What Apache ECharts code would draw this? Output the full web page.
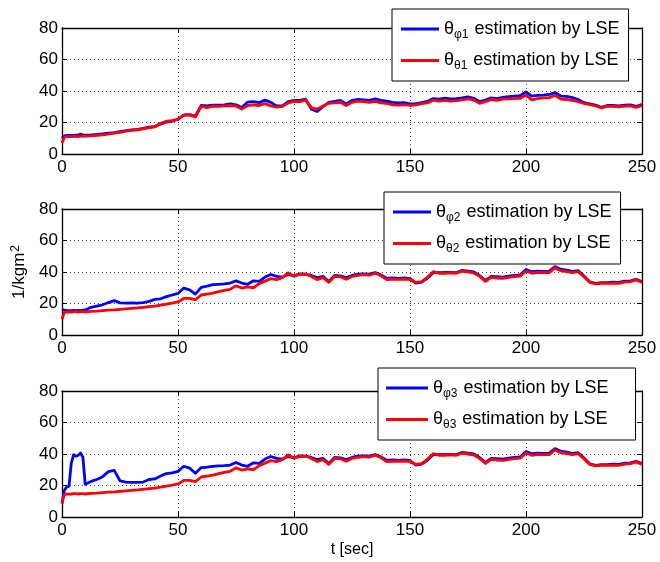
<!DOCTYPE html>
<html>
<head>
<meta charset="utf-8">
<script src="https://cdn.jsdelivr.net/npm/echarts@6/dist/echarts.min.js"></script>
<style>
  html, body { margin: 0; padding: 0; background: #fff; }
  #chart { width: 660px; height: 562px; }
</style>
</head>
<body>
<div id="chart"></div>
<script>
// Sample times [sec]
const timeSec = [0, 1, 2, 3, 4, 5, 6, 7, 8, 9, 10,
  12.5, 15, 17.5, 20, 22.5, 25, 27.5, 30, 32.5, 35, 37.5, 40, 42.5, 45, 47.5, 50,
  52.5, 55, 57.5, 60, 62.5, 65, 67.5, 70, 72.5, 75, 77.5, 80, 82.5, 85, 87.5, 90,
  92.5, 95, 97.5, 100, 102.5, 105, 107.5, 110, 112.5, 115, 117.5, 120, 122.5, 125,
  127.5, 130, 132.5, 135, 137.5, 140, 142.5, 145, 147.5, 150, 152.5, 155, 157.5, 160,
  162.5, 165, 167.5, 170, 172.5, 175, 177.5, 180, 182.5, 185, 187.5, 190, 192.5, 195,
  197.5, 200, 202.5, 205, 207.5, 210, 212.5, 215, 217.5, 220, 222.5, 225, 227.5, 230,
  232.5, 235, 237.5, 240, 242.5, 245, 247.5, 250];

// Axis 1 estimates
const thetaPhi1 = [10, 11.5, 11.8, 11.8, 11.8, 11.8, 11.9, 12, 12.6, 12, 12,
  12.1, 12.4, 12.8, 13.2, 13.6, 14.2, 14.8, 15.3, 15.7, 16.3, 17, 17.4, 19.0, 20.3, 20.8, 22.2,
  24.8, 25, 24, 30.8, 30.5, 31.0, 31.0, 31.2, 31.8, 31.2, 29.5, 33.0, 33.2, 32.6, 34.2, 32.8,
  30.5, 30.6, 33.2, 34.0, 34.0, 34.8, 28.5, 27.0, 30.0, 32.8, 33.4, 34.0, 31.8, 34.0,
  34.6, 34.4, 34.0, 35.0, 34.0, 33.6, 32.8, 32.4, 32.6, 31.8, 32.0, 32.6, 33.4, 35.2,
  34.8, 35.4, 35.0, 35.2, 35.6, 36.2, 35.4, 33.2, 34.2, 35.6, 35.2, 36.0, 36.4, 36.8,
  37.0, 39.4, 36.8, 37.2, 37.4, 37.8, 39.0, 36.8, 36.6, 35.8, 34.6, 32.6, 31.8, 31.0,
  29.6, 30.8, 30.8, 30.6, 31.0, 31.2, 30.2, 31.6];
const thetaTheta1 = [7, 10.5, 11, 11, 11, 11.2, 11.2, 11, 11.5, 11.2, 11.3,
  11.5, 11.8, 12.2, 12.6, 13.2, 13.8, 14.5, 15.0, 15.4, 16.0, 16.8, 17.3, 19.5, 20.8, 21.2, 22,
  24.5, 24.8, 23.5, 30.2, 29.5, 30.4, 30.2, 30.5, 30.8, 30.5, 28.5, 30.8, 31.2, 30.8, 32, 30.5,
  29.8, 30.2, 32.5, 33.4, 33.2, 34.2, 29.5, 28.5, 30.5, 32.2, 32.5, 32.8, 30.8, 32.8,
  33.5, 33.2, 32.8, 33.4, 32.5, 32.2, 31.2, 31.0, 31.4, 30.8, 31.2, 32.0, 32.4, 34.2,
  33.6, 34.0, 33.6, 33.9, 34.3, 35.0, 34.2, 32.2, 33.2, 34.6, 34.0, 34.8, 35.0, 35.2,
  35.4, 37.4, 34.4, 35.2, 35.6, 35.8, 37.2, 34.8, 34.6, 34.0, 33.2, 32.2, 31.4, 30.6,
  29.2, 30.4, 30.2, 30.0, 30.4, 30.6, 29.6, 30.8];

// Axis 2 estimates
const thetaPhi2 = [16.2, 15.8, 15.6, 15.5, 15.5, 15.6, 15.5, 15.6, 15.5, 15.8, 15.9,
  17.6, 18.4, 19.2, 20.6, 21.8, 20.4, 20.2, 20.4, 20.3, 20.5, 21.4, 22.6, 23.0, 24.4, 25.4, 26.4,
  29.8, 28.6, 26.0, 30.2, 31.0, 32.0, 32.2, 32.4, 33.0, 34.4, 33.0, 32.2, 34.4, 34.0, 36.8, 38.4,
  37.2, 36.8, 38.4, 37.6, 38.8, 38.6, 37.8, 36.4, 37.2, 34.0, 37.8, 37.6, 36.4, 37.8,
  38.6, 38.8, 38.6, 39.6, 38.2, 36.0, 36.2, 36.0, 36.2, 35.8, 33.0, 33.6, 36.0, 39.6,
  39.6, 39.8, 39.8, 39.6, 41.0, 40.6, 40.0, 37.8, 34.6, 37.2, 37.0, 36.8, 37.4, 37.8,
  38.2, 41.6, 40.2, 40.6, 40.4, 40.6, 43.4, 41.8, 41.2, 40.4, 40.8, 37.4, 33.8, 32.8,
  33.2, 33.2, 33.6, 33.4, 34.2, 34.4, 35.4, 34.0];
const thetaTheta2 = [10, 14.2, 14.6, 14.5, 14.6, 14.8, 14.8, 14.6, 14.8, 14.9, 14.6,
  15.0, 15.2, 15.5, 15.8, 16.0, 16.3, 16.6, 16.9, 17.2, 17.6, 18.0, 18.4, 19.0, 19.6, 20.2, 21.0,
  23.2, 23.2, 22.4, 25.4, 26.0, 26.6, 27.6, 28.4, 29.0, 31.2, 29.8, 30.6, 30.0, 32.6, 34.2, 35.8,
  35.2, 36.4, 39.4, 37.4, 38.5, 38.7, 37.2, 35.2, 36.4, 33.4, 37.2, 37.0, 35.4, 37.2,
  37.8, 38.4, 38.0, 39.2, 37.6, 35.2, 35.4, 35.3, 35.5, 35.3, 33.4, 33.9, 36.6, 40.2,
  39.2, 39.2, 39.4, 39.2, 40.6, 40.0, 39.4, 37.2, 34.0, 36.6, 36.2, 36.0, 36.6, 37.0,
  37.4, 40.6, 39.2, 39.8, 39.6, 39.6, 42.6, 40.8, 40.2, 39.6, 40.2, 36.8, 33.4, 32.4,
  32.8, 32.8, 33.0, 32.8, 33.6, 33.9, 35.0, 33.4];

// Axis 3 estimates
const thetaPhi3 = [8.5, 17, 19, 19.5, 34, 39.6, 38.6, 39.2, 40.6, 38.0, 20.8,
  22.6, 23.8, 25.6, 28.8, 29.6, 23.0, 22.2, 22.0, 22.0, 22.2, 23.8, 24.2, 26.0, 27.6, 28.0, 29.0,
  32.2, 31.0, 27.8, 31.4, 31.6, 32.2, 32.4, 32.6, 33.0, 34.6, 33.0, 32.2, 34.4, 34.0, 36.8, 38.4,
  37.2, 36.8, 38.4, 37.6, 38.8, 38.6, 37.8, 36.4, 37.2, 34.0, 37.8, 37.6, 36.4, 37.8,
  38.6, 38.8, 38.6, 39.6, 38.2, 36.0, 36.2, 36.0, 36.2, 35.8, 33.0, 33.6, 36.0, 39.6,
  39.6, 39.8, 39.8, 39.6, 41.0, 40.6, 40.0, 37.8, 34.6, 37.2, 37.0, 36.8, 37.4, 37.8,
  38.2, 41.6, 40.2, 40.6, 40.4, 40.6, 43.4, 41.8, 41.2, 40.4, 40.8, 37.4, 33.8, 32.8,
  33.2, 33.2, 33.6, 33.4, 34.2, 34.4, 35.4, 34.0];
const thetaTheta3 = [9, 14.4, 14.6, 14.5, 14.6, 14.8, 14.8, 14.6, 14.8, 14.9, 14.6,
  15.0, 15.2, 15.5, 15.8, 16.0, 16.3, 16.6, 16.9, 17.2, 17.6, 18.0, 18.4, 19.0, 19.6, 20.2, 21.0,
  23.2, 23.2, 22.4, 25.4, 26.0, 26.6, 27.6, 28.4, 29.0, 31.2, 29.8, 30.6, 30.0, 32.6, 34.2, 35.8,
  35.2, 36.4, 39.4, 37.4, 38.5, 38.7, 37.2, 35.2, 36.4, 33.4, 37.2, 37.0, 35.4, 37.2,
  37.8, 38.4, 38.0, 39.2, 37.6, 35.2, 35.4, 35.3, 35.5, 35.3, 33.4, 33.9, 36.6, 40.2,
  39.2, 39.2, 39.4, 39.2, 40.6, 40.0, 39.4, 37.2, 34.0, 36.6, 36.2, 36.0, 36.6, 37.0,
  37.4, 40.6, 39.2, 39.8, 39.6, 39.6, 42.6, 40.8, 40.2, 39.6, 40.2, 36.8, 33.4, 32.4,
  32.8, 32.8, 33.0, 32.8, 33.6, 33.9, 35.0, 33.4];

// Legend entries: [subscript of the blue curve, subscript of the red curve]
const subscripts = [['φ1', 'θ1'], ['φ2', 'θ2'], ['φ3', 'θ3']];
const phiSeries = [thetaPhi1, thetaPhi2, thetaPhi3];
const thetaSeries = [thetaTheta1, thetaTheta2, thetaTheta3];

const xTicks = { min: 0, max: 250, interval: 50 };
const yTicks = { min: 0, max: 80, interval: 20 };

const FONT = 'Liberation Sans, Arial, sans-serif';
const gridTops = [28, 209, 391];
const legendBoxes = [
  { left: 392, top: 9, padding: [11, 9, 9, 9], sample: 38 },
  { left: 384, top: 192, padding: [11, 9, 9, 9], sample: 38 },
  { left: 378, top: 368, padding: [11, 27, 9, 8], sample: 42 }
];

const grids = [], xAxes = [], yAxes = [], series = [], legends = [];
const nameOf = (sub) => 'θ' + sub + ' estimation by LSE';

const dotted = { show: true, lineStyle: { color: '#444', width: 1, type: [1, 3] } };
const frameLine = { show: true, onZero: false, lineStyle: { color: '#000', width: 1.3 } };
const inTick = { show: true, inside: true, length: 5, lineStyle: { color: '#000', width: 1 } };

gridTops.forEach((top, g) => {
  grids.push({ left: 62, width: 580, top: top, height: 126 });
  // bottom & top x-axes
  xAxes.push(Object.assign({
    type: 'value', gridIndex: g, position: 'bottom',
    axisLine: frameLine, axisTick: inTick, splitLine: dotted,
    axisLabel: { color: '#000', fontFamily: FONT, fontSize: 17, margin: 5 },
    name: g === 2 ? 't [sec]' : '', nameLocation: 'middle', nameGap: 25,
    nameTextStyle: { color: '#000', fontFamily: FONT, fontSize: 16 }
  }, xTicks));
  xAxes.push(Object.assign({
    type: 'value', gridIndex: g, position: 'top',
    axisLine: frameLine, axisTick: inTick, splitLine: { show: false },
    axisLabel: { show: false }
  }, xTicks));
  // left & right y-axes
  yAxes.push(Object.assign({
    type: 'value', gridIndex: g, position: 'left',
    axisLine: frameLine, axisTick: inTick, splitLine: dotted,
    axisLabel: { color: '#000', fontFamily: FONT, fontSize: 17, margin: 4 },
    name: g === 1 ? '1/kgm{sup|2}' : '', nameLocation: 'middle', nameGap: 24, nameRotate: 90,
    nameTextStyle: {
      color: '#000', fontFamily: FONT, fontSize: 17,
      rich: { sup: { fontFamily: FONT, fontSize: 12, color: '#000', padding: [0, 0, 9, 1] } }
    }
  }, yTicks));
  yAxes.push(Object.assign({
    type: 'value', gridIndex: g, position: 'right',
    axisLine: frameLine, axisTick: inTick, splitLine: { show: false },
    axisLabel: { show: false }
  }, yTicks));

  const [subPhi, subTheta] = subscripts[g];
  const curves = [
    { name: nameOf(subPhi), values: phiSeries[g], color: '#0000ff' },
    { name: nameOf(subTheta), values: thetaSeries[g], color: '#ff0000' }
  ];
  curves.forEach((c, k) => {
    series.push({
      type: 'line', name: c.name, xAxisIndex: 2 * g, yAxisIndex: 2 * g,
      data: timeSec.map((t, i) => [t, c.values[i]]),
      symbol: 'none', showSymbol: false, z: 2 + k,
      lineStyle: { color: c.color, width: 2.8, join: 'round' },
      itemStyle: { color: c.color },
      emphasis: { disabled: true }, silent: true
    });
  });

  const box = legendBoxes[g];
  legends.push({
    orient: 'vertical', left: box.left, top: box.top, padding: box.padding,
    backgroundColor: '#fff', borderColor: '#000', borderWidth: 1, borderRadius: 0,
    itemWidth: box.sample, itemHeight: 3, itemGap: 11, icon: 'rect', selectedMode: false,
    data: curves.map(c => c.name),
    formatter: (name) => {
      const sub = name.slice(1, name.indexOf(' '));
      return '{g|θ}{s|' + sub + '} estimation by LSE';
    },
    textStyle: {
      color: '#000', fontFamily: FONT, fontSize: 18,
      rich: {
        g: { fontFamily: FONT, fontSize: 18, color: '#000' },
        s: { fontFamily: FONT, fontSize: 12, color: '#000', padding: [11, 1, 0, 0] }
      }
    }
  });
});

const chart = echarts.init(document.getElementById('chart'), null, { renderer: 'canvas' });
chart.setOption({
  animation: false,
  backgroundColor: '#fff',
  grid: grids, xAxis: xAxes, yAxis: yAxes, legend: legends, series: series
});
</script>
</body>
</html>
